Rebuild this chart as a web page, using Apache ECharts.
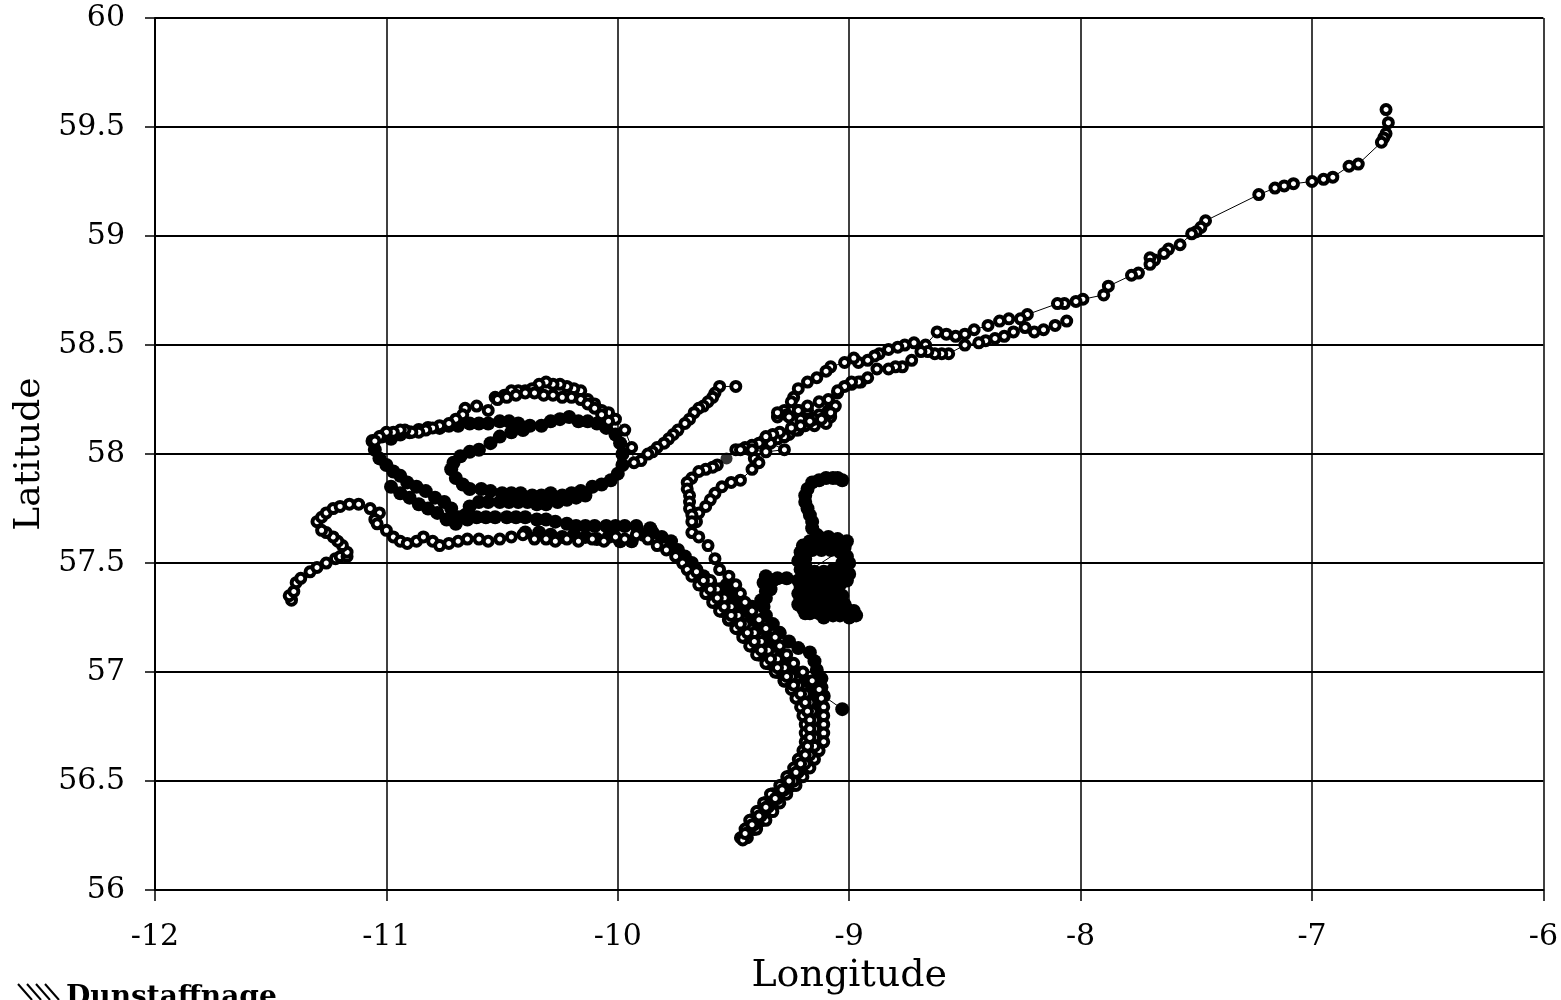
<!DOCTYPE html>
<html>
<head>
<meta charset="utf-8">
<script src="https://cdn.jsdelivr.net/npm/echarts@6/dist/echarts.min.js"></script>
<style>
  html, body { margin: 0; padding: 0; background: #fff; }
  #chart { width: 1561px; height: 1000px; }
</style>
</head>
<body>
<div id="chart"></div>
<script>
// Axis extents
const lonRange = [-12, -6];
const latRange = [56, 60];
const lonStep = 1;
const latStep = 0.5;

// ---- Tracks plotted with open markers: [longitude, latitude] ----
const trackNE = [
  [-6.68,59.58],[-6.67,59.52],[-6.68,59.47],[-6.69,59.45],[-6.70,59.43],
  [-6.80,59.33],[-6.84,59.32],[-6.91,59.27],[-6.95,59.26],[-7.00,59.25],[-7.08,59.24],[-7.12,59.23],[-7.16,59.22],[-7.23,59.19],
  [-7.46,59.07],[-7.48,59.04],[-7.50,59.02],[-7.52,59.01],[-7.57,58.96],[-7.62,58.94],[-7.64,58.92],[-7.68,58.89],[-7.70,58.90],[-7.70,58.87],[-7.75,58.83],[-7.78,58.82],
  [-7.88,58.77],[-7.90,58.73],[-7.99,58.71],[-8.02,58.70],[-8.07,58.69],[-8.10,58.69],
  [-8.23,58.64],[-8.26,58.62],[-8.31,58.62],[-8.35,58.61],[-8.40,58.59],[-8.46,58.57],[-8.50,58.55],[-8.54,58.54],[-8.58,58.55],[-8.62,58.56],
  [-8.67,58.50],[-8.72,58.51],[-8.76,58.50],[-8.79,58.49],[-8.83,58.48],[-8.87,58.46],[-8.89,58.45],[-8.92,58.43],[-8.96,58.42],[-8.98,58.44],
  [-9.02,58.42],[-9.08,58.40],[-9.10,58.38],[-9.14,58.35],[-9.18,58.33],[-9.22,58.30],[-9.24,58.26],[-9.25,58.24],[-9.28,58.20],[-9.31,58.17],
  [-9.27,58.18],[-9.22,58.20],[-9.18,58.20],[-9.13,58.18],[-9.09,58.18],[-9.11,58.15],[-9.15,58.13],[-9.19,58.14],[-9.22,58.11],[-9.26,58.09],
  [-9.28,58.08],[-9.31,58.07],[-9.34,58.07],[-9.37,58.06],[-9.39,58.05],[-9.42,58.04],[-9.45,58.03],[-9.49,58.02],
  [-9.41,57.98],[-9.39,57.96],[-9.42,57.93],[-9.47,57.88],[-9.51,57.87],[-9.55,57.85],[-9.58,57.82],[-9.60,57.79],[-9.62,57.76],[-9.65,57.73],
  [-9.66,57.69],[-9.68,57.64],[-9.65,57.62],[-9.61,57.58],[-9.58,57.52],[-9.56,57.47],
  [-9.52,57.44],[-9.49,57.40],[-9.47,57.36],[-9.45,57.32],[-9.42,57.28],[-9.39,57.24],[-9.36,57.20],[-9.32,57.16],[-9.30,57.12],[-9.27,57.08],
  [-9.24,57.04],[-9.20,57.00],[-9.16,56.96],[-9.13,56.92],[-9.12,56.88],[-9.11,56.84],[-9.11,56.80],[-9.11,56.76],[-9.11,56.72],[-9.11,56.68],
  [-9.13,56.64],[-9.15,56.60],[-9.17,56.56],[-9.20,56.52],[-9.23,56.48],[-9.27,56.44],[-9.30,56.40],[-9.33,56.36],[-9.36,56.32],[-9.40,56.28],[-9.44,56.24]
];

const trackNECluster = [
  [-8.95,58.33],[-8.99,58.32],[-9.05,58.28],[-9.09,58.20],[-9.08,58.17],[-9.13,58.24],[-9.18,58.22],[-9.22,58.20],[-9.26,58.17],[-9.31,58.19],
  [-9.21,58.16],[-9.15,58.16],[-9.10,58.14],[-9.19,58.13],[-9.23,58.11],[-9.28,58.08],[-9.34,58.05],[-9.28,58.02],[-9.36,58.01],[-9.42,58.02],[-9.47,58.02]
];

const trackLower = [
  [-8.06,58.61],[-8.11,58.59],[-8.16,58.57],[-8.20,58.56],[-8.24,58.58],[-8.29,58.56],[-8.33,58.54],[-8.37,58.53],[-8.41,58.52],[-8.44,58.51],
  [-8.50,58.50],[-8.57,58.46],[-8.60,58.46],[-8.63,58.46],[-8.66,58.47],[-8.69,58.47],[-8.73,58.43],[-8.77,58.40],[-8.80,58.40],[-8.83,58.39],
  [-8.88,58.39],[-8.92,58.35],[-8.96,58.33],[-8.99,58.33],[-9.02,58.31],[-9.05,58.29],[-9.09,58.25],[-9.06,58.22],[-9.08,58.19],[-9.12,58.16],
  [-9.17,58.15],[-9.21,58.13],[-9.25,58.12],[-9.30,58.10],[-9.33,58.09],[-9.36,58.08]
];

const trackWest = [
  [-11.41,57.33],[-11.42,57.35],[-11.40,57.37],[-11.39,57.41],[-11.37,57.43],[-11.33,57.46],[-11.30,57.48],[-11.26,57.50],[-11.22,57.52],[-11.20,57.53],
  [-11.17,57.53],[-11.17,57.55],[-11.19,57.58],[-11.21,57.60],[-11.23,57.62],[-11.26,57.64],[-11.28,57.65],[-11.30,57.69],[-11.28,57.71],[-11.26,57.73],
  [-11.23,57.75],[-11.20,57.76],[-11.16,57.77],[-11.12,57.77],[-11.07,57.75],[-11.03,57.73],[-11.05,57.70],[-11.04,57.68],[-11.00,57.65],[-10.97,57.62],
  [-10.94,57.60],[-10.91,57.59],[-10.87,57.60],[-10.84,57.62],[-10.80,57.60],[-10.77,57.58],[-10.73,57.59],[-10.69,57.60],[-10.65,57.61],[-10.60,57.61],
  [-10.56,57.60],[-10.51,57.61],[-10.46,57.62],[-10.41,57.63],[-10.36,57.61],[-10.31,57.61],[-10.27,57.60],[-10.22,57.61],[-10.17,57.60],[-10.11,57.61],
  [-10.06,57.60],[-10.01,57.62],[-9.97,57.61],[-9.92,57.63],[-9.87,57.61],[-9.83,57.58],[-9.79,57.56],[-9.75,57.53],[-9.72,57.50],[-9.70,57.47],
  [-9.68,57.44],[-9.65,57.40],[-9.62,57.36],[-9.59,57.32],[-9.56,57.28],[-9.52,57.24],[-9.49,57.20],[-9.46,57.16],[-9.43,57.12],[-9.40,57.08],
  [-9.36,57.04],[-9.32,57.00],[-9.28,56.96],[-9.25,56.92],[-9.23,56.88],[-9.21,56.84],[-9.20,56.80],[-9.19,56.76],[-9.19,56.72],[-9.19,56.68],
  [-9.20,56.64],[-9.22,56.60],[-9.24,56.56],[-9.27,56.52],[-9.30,56.48],[-9.34,56.44],[-9.37,56.40],[-9.40,56.36],[-9.43,56.32],[-9.45,56.28],[-9.47,56.24],
  [-9.46,56.23],[-9.44,56.26],[-9.41,56.30],[-9.38,56.34],[-9.35,56.38],[-9.31,56.42],[-9.28,56.46],[-9.24,56.50],[-9.22,56.54],[-9.19,56.58],
  [-9.17,56.62],[-9.15,56.66],[-9.15,56.70],[-9.15,56.74],[-9.15,56.78],[-9.16,56.82],[-9.17,56.86],[-9.19,56.90],[-9.22,56.94],[-9.25,56.98],
  [-9.28,57.02],[-9.31,57.06],[-9.35,57.10],[-9.38,57.14],[-9.41,57.18],[-9.45,57.22],[-9.48,57.26],[-9.51,57.30],[-9.54,57.34],[-9.57,57.38],[-9.60,57.42]
];

const trackSouth = [
  [-9.66,57.46],[-9.63,57.42],[-9.60,57.38],[-9.57,57.34],[-9.54,57.30],[-9.51,57.26],[-9.47,57.22],[-9.44,57.18],[-9.41,57.14],[-9.38,57.10],
  [-9.34,57.06],[-9.31,57.02],[-9.27,56.98],[-9.24,56.94],[-9.21,56.90],[-9.19,56.86],[-9.18,56.82],[-9.17,56.78],[-9.17,56.74],[-9.17,56.70],
  [-9.18,56.66],[-9.19,56.62],[-9.21,56.58],[-9.23,56.54],[-9.26,56.50],[-9.29,56.46],[-9.32,56.42],[-9.36,56.38],[-9.39,56.34],[-9.42,56.30],[-9.45,56.26]
];

const trackArm = [
  [-9.49,58.31],[-9.56,58.31],[-9.58,58.28],[-9.59,58.26],[-9.61,58.24],[-9.63,58.22],[-9.65,58.21],[-9.67,58.19],[-9.69,58.16],[-9.71,58.14],
  [-9.74,58.11],[-9.76,58.09],[-9.78,58.07],[-9.80,58.05],[-9.83,58.03],[-9.85,58.01],[-9.87,58.00],[-9.90,57.97],[-9.93,57.96],
  [-9.94,58.03],[-9.97,58.11],[-10.01,58.16],[-10.04,58.19],[-10.07,58.20],[-10.10,58.23],[-10.13,58.25],[-10.16,58.29],[-10.19,58.30],[-10.22,58.31],
  [-10.25,58.32],[-10.28,58.32],[-10.31,58.33],[-10.34,58.32],[-10.37,58.30],[-10.40,58.29],[-10.43,58.29],[-10.46,58.29],[-10.49,58.27],[-10.53,58.26],
  [-10.56,58.20],[-10.61,58.22],[-10.66,58.21],[-10.67,58.18],[-10.70,58.16],[-10.73,58.14],[-10.77,58.13],[-10.80,58.12],[-10.83,58.11],[-10.86,58.10],
  [-10.89,58.10],[-10.92,58.11],[-10.94,58.11],[-10.97,58.10],[-11.00,58.10],[-11.03,58.08],[-11.05,58.06]
];

const trackTop = [
  [-10.52,58.25],[-10.48,58.26],[-10.44,58.27],[-10.40,58.28],[-10.36,58.28],[-10.32,58.27],[-10.28,58.27],
  [-10.24,58.26],[-10.20,58.26],[-10.16,58.25],[-10.13,58.23],[-10.10,58.21],[-10.07,58.18],[-10.04,58.15]
];

const trackShort = [
  [-9.57,57.95],[-9.59,57.94],[-9.62,57.93],[-9.65,57.92],[-9.68,57.89],[-9.70,57.87],
  [-9.70,57.84],[-9.69,57.81],[-9.69,57.78],[-9.69,57.75],[-9.68,57.72],[-9.68,57.69]
];

// ---- Tracks plotted with filled markers ----
const trackLoop = [
  [-9.86,57.66],[-9.92,57.67],[-9.97,57.67],[-10.01,57.67],[-10.05,57.67],[-10.10,57.67],[-10.14,57.67],[-10.18,57.67],[-10.22,57.68],[-10.27,57.69],
  [-10.31,57.70],[-10.35,57.70],[-10.40,57.71],[-10.44,57.71],[-10.48,57.71],[-10.53,57.71],[-10.57,57.71],[-10.61,57.71],[-10.65,57.70],[-10.69,57.71],
  [-10.72,57.75],[-10.75,57.78],[-10.79,57.80],[-10.83,57.83],[-10.87,57.85],[-10.91,57.87],[-10.94,57.90],[-10.97,57.92],[-11.00,57.95],[-11.03,57.98],
  [-11.05,58.02],[-11.06,58.06],[-11.02,58.08],[-10.98,58.07],[-10.94,58.09],[-10.90,58.10],[-10.86,58.11],[-10.82,58.12],[-10.77,58.12],[-10.73,58.13],
  [-10.69,58.13],[-10.64,58.14],[-10.60,58.14],[-10.56,58.14],[-10.51,58.15],[-10.47,58.15],[-10.43,58.14],[-10.38,58.13],[-10.33,58.13],[-10.29,58.15],
  [-10.25,58.16],[-10.21,58.17],[-10.17,58.15],[-10.13,58.15],[-10.09,58.14],[-10.05,58.12],[-10.01,58.09],[-9.99,58.05],[-9.98,58.00],[-9.98,57.95],
  [-10.00,57.91],[-10.03,57.88],[-10.07,57.86],[-10.11,57.85],[-10.16,57.83],[-10.20,57.82],[-10.24,57.81],[-10.29,57.82],[-10.33,57.81],[-10.37,57.81],
  [-10.42,57.82],[-10.46,57.82],[-10.50,57.82],[-10.55,57.83],[-10.59,57.84],[-10.64,57.84],[-10.67,57.86],[-10.70,57.89],[-10.72,57.93],[-10.71,57.96],
  [-10.68,57.99],[-10.64,58.01],[-10.60,58.02],[-10.55,58.05],[-10.51,58.08],[-10.46,58.10],[-10.41,58.11]
];

const trackLoopInner = [
  [-10.98,57.85],[-10.94,57.82],[-10.90,57.80],[-10.86,57.77],[-10.82,57.75],[-10.78,57.73],[-10.74,57.70],[-10.70,57.68],
  [-10.66,57.72],[-10.64,57.76],[-10.60,57.78],[-10.56,57.78],[-10.51,57.78],[-10.47,57.78],[-10.43,57.78],[-10.39,57.78],
  [-10.35,57.77],[-10.31,57.77],[-10.26,57.78],[-10.22,57.79],[-10.18,57.80],[-10.14,57.81]
];

const trackBand = [
  [-10.40,57.64],[-10.34,57.64],[-10.29,57.63],[-10.24,57.62],[-10.19,57.63],[-10.14,57.62],[-10.09,57.61],[-10.04,57.62],[-9.99,57.60],[-9.94,57.60],
  [-9.89,57.63],[-9.85,57.64],[-9.81,57.62],[-9.77,57.60],[-9.74,57.56],[-9.71,57.53],[-9.68,57.50],[-9.66,57.47],[-9.63,57.44],[-9.60,57.41],
  [-9.56,57.38],[-9.53,57.35],[-9.49,57.32],[-9.46,57.29],[-9.42,57.30],[-9.38,57.33],[-9.36,57.37],[-9.37,57.41],[-9.36,57.44]
];

const trackTailWest = [
  [-9.66,57.44],[-9.64,57.40],[-9.61,57.36],[-9.58,57.32],[-9.55,57.28],[-9.52,57.24],[-9.48,57.20],[-9.45,57.16],[-9.42,57.12],[-9.39,57.08],
  [-9.35,57.04],[-9.31,57.00],[-9.28,56.96],[-9.24,56.92],[-9.22,56.88],[-9.20,56.84],[-9.19,56.80],[-9.18,56.76],[-9.18,56.72],[-9.18,56.68],
  [-9.19,56.64],[-9.21,56.60],[-9.23,56.56],[-9.26,56.52],[-9.29,56.48],[-9.33,56.44],[-9.36,56.40],[-9.39,56.36],[-9.42,56.32],[-9.44,56.28]
];

const trackTailMid = [
  [-9.53,57.40],[-9.50,57.36],[-9.48,57.32],[-9.45,57.28],[-9.42,57.24],[-9.39,57.20],[-9.35,57.16],[-9.32,57.12],[-9.29,57.08],[-9.26,57.04],
  [-9.23,57.00],[-9.19,56.96],[-9.16,56.92],[-9.14,56.88],[-9.13,56.84],[-9.13,56.80],[-9.13,56.76],[-9.13,56.72],[-9.13,56.68],[-9.15,56.64],
  [-9.17,56.60],[-9.19,56.56],[-9.22,56.52],[-9.25,56.48],[-9.29,56.44],[-9.32,56.40],[-9.35,56.36],[-9.38,56.32],[-9.41,56.28]
];

const trackCluster = [
  [-9.31,57.43],[-9.27,57.43],[-9.22,57.42],
  [-9.21,57.39],[-9.22,57.36],[-9.21,57.33],[-9.18,57.31],[-9.14,57.30],[-9.10,57.31],[-9.06,57.33],[-9.03,57.35],[-9.06,57.37],[-9.10,57.36],
  [-9.14,57.35],[-9.18,57.35],[-9.20,57.29],[-9.17,57.27],[-9.13,57.27],[-9.09,57.28],[-9.05,57.29],[-9.01,57.29],[-8.98,57.28],[-8.97,57.26],
  [-9.00,57.25],[-9.04,57.26],[-9.08,57.30],[-9.11,57.34],[-9.15,57.39],[-9.12,57.41],[-9.08,57.41],[-9.05,57.43],[-9.02,57.45],[-9.06,57.44],
  [-9.10,57.44],[-9.14,57.43],[-9.18,57.43],
  [-9.21,57.47],[-9.22,57.51],[-9.20,57.55],[-9.16,57.56],[-9.12,57.56],[-9.08,57.56],[-9.04,57.55],[-9.01,57.53],[-9.00,57.50],[-9.03,57.47],
  [-9.07,57.47],[-9.11,57.46],[-9.15,57.46],[-9.18,57.46],
  [-9.02,57.57],[-9.01,57.60],[-9.05,57.61],[-9.09,57.62],[-9.13,57.62],[-9.17,57.60],[-9.20,57.58],
  [-9.14,57.63],[-9.16,57.66],[-9.16,57.69],[-9.17,57.72],[-9.18,57.75],[-9.19,57.78],[-9.19,57.81],[-9.18,57.84],[-9.16,57.87],[-9.13,57.88],
  [-9.10,57.89],[-9.07,57.89],[-9.05,57.89],[-9.03,57.88]
];

const trackCluster2 = [
  [-9.19,57.44],[-9.16,57.41],[-9.12,57.39],[-9.08,57.38],[-9.04,57.40],[-9.01,57.42],[-9.00,57.45],[-9.03,57.50],[-9.06,57.58],[-9.10,57.59],
  [-9.14,57.59],[-9.18,57.58],[-9.21,57.55],[-9.19,57.52],[-9.19,57.49],[-9.20,57.41],[-9.19,57.37],[-9.16,57.33],[-9.12,57.32],[-9.08,57.33],
  [-9.04,57.32],[-9.02,57.31],[-9.07,57.26],[-9.11,57.25],[-9.15,57.28],[-9.19,57.27],[-9.22,57.31]
];

const trackTail = [
  [-9.33,57.42],[-9.34,57.38],[-9.36,57.34],[-9.37,57.30],[-9.36,57.26],[-9.33,57.22],[-9.30,57.18],[-9.26,57.14],[-9.22,57.11],[-9.17,57.09],
  [-9.15,57.05],[-9.14,57.01],[-9.12,56.97],[-9.12,56.93],[-9.11,56.89],[-9.03,56.83]
];

// Isolated fixes drawn as solid dots
const soloFixes = [[-8.06,58.61],[-9.53,57.98]];

const openTracks = [trackNE, trackNECluster, trackLower, trackWest, trackSouth, trackArm, trackTop, trackShort];
const filledTracks = [trackLoop, trackLoopInner, trackBand, trackTailWest, trackTailMid, trackCluster, trackCluster2, trackTail];

const serifFont = "'DejaVu Serif', 'Liberation Serif', serif";

function makeTrack(points, filled) {
  return {
    type: 'line',
    data: points,
    symbol: 'circle',
    symbolSize: filled ? 14 : 9,
    showSymbol: true,
    silent: true,
    animation: false,
    lineStyle: { color: '#000', width: 1 },
    itemStyle: filled
      ? { color: '#000', borderColor: '#000', borderWidth: 0 }
      : { color: '#fff', borderColor: '#000', borderWidth: 4 },
    emphasis: { disabled: true }
  };
}

const series = [];
filledTracks.forEach(t => series.push(makeTrack(t, true)));
openTracks.forEach(t => series.push(makeTrack(t, false)));
series.push({
  type: 'scatter',
  data: soloFixes,
  symbol: 'circle',
  symbolSize: 12,
  silent: true,
  itemStyle: { color: '#000' }
});

// Hatched mark of the laboratory logo
const hatch = [18, 27, 36, 45].map(x => ({
  type: 'line',
  shape: { x1: x, y1: 984, x2: x + 14, y2: 1000 },
  style: { stroke: '#000', lineWidth: 2 }
}));

const chart = echarts.init(document.getElementById('chart'), null, { renderer: 'canvas' });
chart.setOption({
  animation: false,
  backgroundColor: '#fff',
  grid: { left: 155, right: 15, top: 18, bottom: 109, containLabel: false },
  xAxis: {
    type: 'value',
    min: lonRange[0],
    max: lonRange[1],
    interval: lonStep,
    name: 'Longitude',
    nameLocation: 'middle',
    nameGap: 64,
    nameTextStyle: { fontFamily: serifFont, fontSize: 38, color: '#000' },
    axisLine: { show: true, onZero: false, lineStyle: { color: '#000', width: 2 } },
    axisTick: { show: true, inside: false, length: 11, lineStyle: { color: '#000', width: 1.5 } },
    axisLabel: { fontFamily: serifFont, fontSize: 30, color: '#000', margin: 32 },
    splitLine: { show: true, lineStyle: { color: '#000', width: 1.5 } }
  },
  yAxis: {
    type: 'value',
    min: latRange[0],
    max: latRange[1],
    interval: latStep,
    name: 'Latitude',
    nameLocation: 'middle',
    nameGap: 103,
    nameTextStyle: { fontFamily: serifFont, fontSize: 36, color: '#000' },
    axisLine: { show: true, onZero: false, lineStyle: { color: '#000', width: 2 } },
    axisTick: { show: true, inside: false, length: 10, lineStyle: { color: '#000', width: 1.5 } },
    axisLabel: { fontFamily: serifFont, fontSize: 30, color: '#000', margin: 30 },
    splitLine: { show: true, lineStyle: { color: '#000', width: 2 } }
  },
  graphic: [
    ...hatch,
    {
      type: 'text',
      left: 66,
      top: 984,
      style: { text: 'Dunstaffnage', fontFamily: serifFont, fontWeight: 'bold', fontSize: 28, fill: '#000' }
    }
  ],
  series: series
});
</script>
</body>
</html>
